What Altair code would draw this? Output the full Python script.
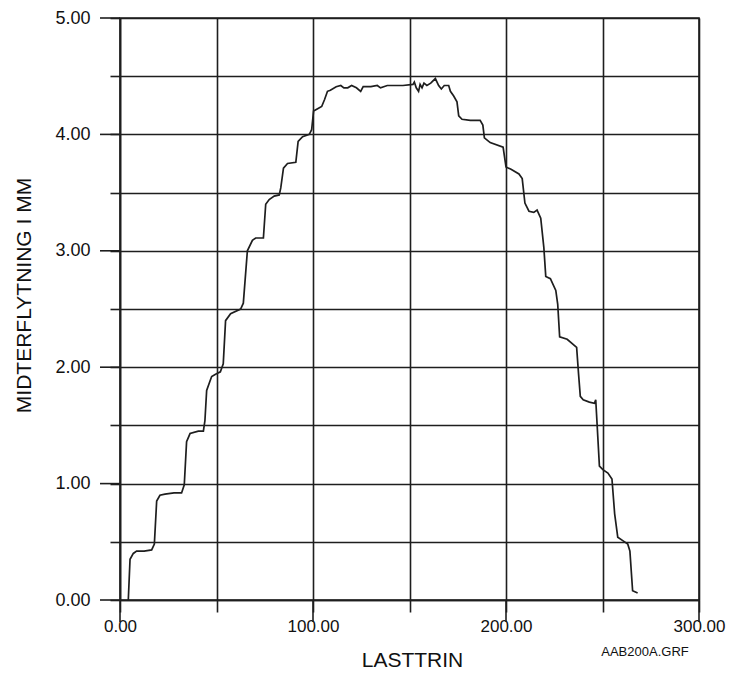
import altair as alt
import pandas as pd

# Curve (LASTTRIN vs MIDTERFLYTNING I MM)
lasttrin = [4.3, 5.2, 6.9, 8.6, 12.5, 16.4, 17.8, 19.0, 20.7, 23.3, 28.0, 31.9, 33.3, 34.5,
            36.3, 40.6, 43.2, 44.0, 44.9, 46.6, 47.5, 49.5, 52.0, 53.5, 54.7, 57.3, 62.5,
            63.9, 66.0, 68.6, 70.3, 74.3, 75.5, 77.3, 79.9, 82.5, 83.3, 84.7, 86.8, 91.1,
            92.3, 94.6, 98.1, 99.3, 100.3, 102.4, 104.5, 106.0, 107.5, 109.0, 112.0, 114.4,
            116.0, 118.0, 120.0, 122.5, 124.7, 126.0, 130.0, 133.3, 135.0, 138.5, 142.0,
            146.6, 151.8, 152.5, 153.5, 154.7, 155.5, 156.5, 157.5, 159.0, 161.0, 163.4,
            165.1, 166.5, 168.0, 170.3, 171.2, 172.9, 174.6, 175.5, 177.2, 181.5, 186.6,
            188.0, 188.8, 191.8, 198.5, 200.0, 202.6, 206.7, 208.4, 209.8, 211.9, 214.4,
            216.1, 218.0, 219.6, 220.6, 223.0, 225.8, 226.8, 227.8, 231.7, 236.6, 237.6,
            238.5, 240.0, 243.2, 245.8, 246.5, 246.9, 248.4, 250.2, 252.8, 254.9, 256.3,
            257.9, 260.5, 263.1, 264.2, 265.6, 268.2]
midterflytning = [0.00, 0.35, 0.40, 0.42, 0.42, 0.43, 0.48, 0.85, 0.90, 0.91, 0.92, 0.92, 0.99, 1.36,
                  1.43, 1.45, 1.45, 1.54, 1.80, 1.88, 1.92, 1.94, 1.96, 2.03, 2.40, 2.46, 2.50,
                  2.55, 3.00, 3.09, 3.11, 3.11, 3.40, 3.44, 3.47, 3.48, 3.54, 3.71, 3.75, 3.76,
                  3.94, 3.98, 4.00, 4.04, 4.20, 4.22, 4.24, 4.30, 4.37, 4.38, 4.41, 4.42,
                  4.40, 4.40, 4.42, 4.40, 4.37, 4.41, 4.41, 4.42, 4.40, 4.42, 4.42,
                  4.42, 4.43, 4.45, 4.40, 4.37, 4.43, 4.40, 4.44, 4.42, 4.44, 4.48,
                  4.42, 4.39, 4.42, 4.42, 4.37, 4.33, 4.28, 4.16, 4.13, 4.12, 4.12,
                  4.08, 3.97, 3.93, 3.89, 3.72, 3.70, 3.66, 3.62, 3.41, 3.34, 3.33,
                  3.35, 3.28, 3.03, 2.78, 2.76, 2.66, 2.54, 2.26, 2.24, 2.17, 1.94,
                  1.75, 1.72, 1.70, 1.69, 1.72, 1.60, 1.15, 1.12, 1.09, 1.04, 0.74,
                  0.54, 0.51, 0.48, 0.42, 0.08, 0.06]

x_ticks = [0, 50, 100, 150, 200, 250, 300]
x_major = [0, 100, 200, 300]
y_ticks = [0, 0.5, 1, 1.5, 2, 2.5, 3, 3.5, 4, 4.5, 5]
y_major = [0, 1, 2, 3, 4, 5]
file_label = ["AAB200A.GRF"]

INK = "#1e1e1e"
FONT = "Liberation Sans"
W, H = 579, 582

df = pd.DataFrame({"x": lasttrin, "y": midterflytning})

xscale = alt.Scale(domain=[0, 300], nice=False, zero=False)
yscale = alt.Scale(domain=[0, 5], nice=False, zero=False)

xaxis = alt.Axis(
    values=x_ticks,
    labelExpr="datum.value % 100 === 0 ? format(datum.value, '.2f') : ''",
    tickSize=12, tickColor=INK, tickWidth=1.6,
    grid=True, gridColor=INK, gridWidth=1.6, gridOpacity=1,
    domainColor=INK, domainWidth=1.6,
    labelFont=FONT, labelFontSize=17, labelColor="#111", labelPadding=6,
    labelFlush=False, labelOverlap=False,
    title="LASTTRIN", titleFont=FONT, titleFontSize=21, titleFontWeight="normal",
    titleColor="#111", titleX=292, titleY=60, titleBaseline="middle", titleAlign="center",
)
yaxis = alt.Axis(
    values=y_ticks,
    labelExpr="datum.value % 1 === 0 ? format(datum.value, '.2f') : ''",
    tickSize=10, tickColor=INK, tickWidth=1.6,
    grid=True, gridColor=INK, gridWidth=1.6, gridOpacity=1,
    domainColor=INK, domainWidth=1.6,
    labelFont=FONT, labelFontSize=18, labelColor="#111", labelPadding=20,
    labelFlush=False, labelOverlap=False,
    title="MIDTERFLYTNING I MM", titleFont=FONT, titleFontSize=21, titleFontWeight="normal",
    titleColor="#111", titleAngle=270, titleX=-96, titleY=277,
    titleBaseline="middle", titleAlign="center",
)

line = alt.Chart(df).mark_line(color=INK, strokeWidth=1.7).encode(
    x=alt.X("x:Q", scale=xscale, axis=xaxis),
    y=alt.Y("y:Q", scale=yscale, axis=yaxis),
)

xmaj = alt.Chart(pd.DataFrame({"x": x_major})).mark_rule(color=INK, strokeWidth=1.6).encode(
    x=alt.X("x:Q", scale=xscale),
    y=alt.value(H), y2=alt.value(H + 22),
)
ymaj = alt.Chart(pd.DataFrame({"y": y_major})).mark_rule(color=INK, strokeWidth=1.6).encode(
    y=alt.Y("y:Q", scale=yscale),
    x=alt.value(-20), x2=alt.value(0),
)
note = alt.Chart(pd.DataFrame({"t": file_label})).mark_text(
    font=FONT, fontSize=13, color="#111", align="center", baseline="middle"
).encode(text="t:N", x=alt.value(525), y=alt.value(634))

chart = alt.layer(line, xmaj, ymaj, note).properties(
    width=W, height=H,
    autosize=alt.AutoSizeParams(type="none"),
    padding={"left": 120, "top": 18, "right": 30, "bottom": 73},
    background="white",
).configure_view(stroke=INK, strokeWidth=1.6)

chart.save("out.html", embed_options={"renderer": "svg", "actions": False})
